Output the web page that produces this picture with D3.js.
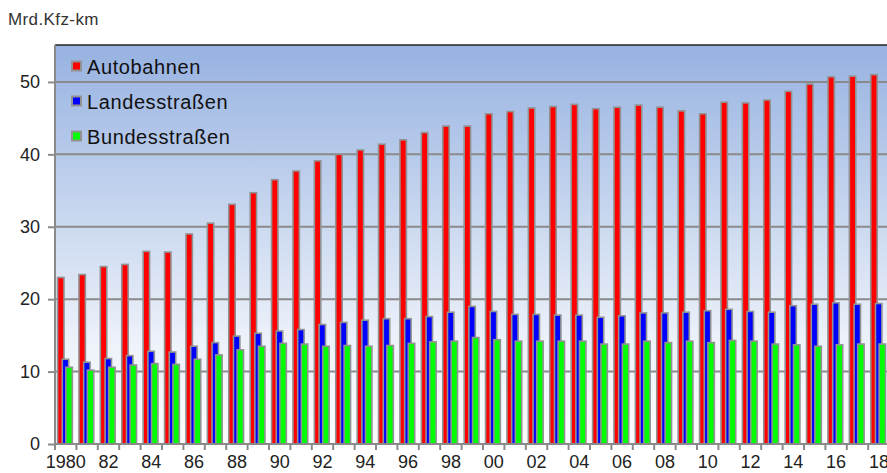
<!DOCTYPE html>
<html>
<head>
<meta charset="utf-8">
<script src="https://cdn.jsdelivr.net/npm/d3@7"></script>
<style>
  body { margin: 0; background: #fff; }
  text { font-family: Arial, "Liberation Sans", sans-serif; }
</style>
</head>
<body>
<div id="theChart"></div>
<script>
const years = d3.range(1980, 2019)
const autobahnen = [23.0, 23.4, 24.5, 24.8, 26.6, 26.5, 29.0, 30.5, 33.1, 34.7,
	36.5, 37.7, 39.1, 40.0, 40.6, 41.4, 42.0, 43.0, 43.9, 43.9,
	45.6, 45.9, 46.4, 46.6, 46.9, 46.3, 46.5, 46.8, 46.5, 46.0,
	45.6, 47.2, 47.1, 47.5, 48.7, 49.7, 50.7, 50.8, 51.0]
const landesstrassen = [11.7, 11.3, 11.8, 12.2, 12.8, 12.7, 13.5, 14.0, 14.9, 15.3,
	15.6, 15.8, 16.5, 16.8, 17.1, 17.3, 17.3, 17.6, 18.2, 19.0,
	18.3, 17.9, 17.9, 17.8, 17.8, 17.5, 17.7, 18.1, 18.1, 18.2,
	18.4, 18.6, 18.3, 18.2, 19.1, 19.3, 19.5, 19.3, 19.4]
const bundesstrassen = [10.6, 10.2, 10.6, 10.9, 11.1, 11.0, 11.7, 12.3, 13.0, 13.5,
	13.9, 13.8, 13.5, 13.6, 13.5, 13.6, 13.9, 14.1, 14.2, 14.7,
	14.4, 14.2, 14.2, 14.2, 14.2, 13.8, 13.8, 14.2, 14.0, 14.2,
	14.0, 14.3, 14.2, 13.8, 13.7, 13.5, 13.7, 13.8, 13.8]
const seriesNames = ["Autobahnen", "Landesstraßen", "Bundesstraßen"]
const seriesColors = ["#ff0000", "#0000ff", "#00ff00"]
const yTicks = [0, 10, 20, 30, 40, 50]

const w = 887
const h = 473
const plotLeft = 55
const plotTop = 45
const plotBottom = 444
const step = 21.4

const svg = d3.select("#theChart").append("svg")
	.attr("width", w).attr("height", h)

const x = d3.scaleBand().domain(years)
	.range([plotLeft, plotLeft + years.length * step]).padding(0)
const y = d3.scaleLinear().domain([0, 55.1]).range([plotBottom, plotTop])

// background gradient
const grad = svg.append("defs").append("linearGradient")
	.attr("id", "bg").attr("x1", 0).attr("y1", 0).attr("x2", 0).attr("y2", 1)
grad.append("stop").attr("offset", "0%").attr("stop-color", "#97b2e1")
grad.append("stop").attr("offset", "45%").attr("stop-color", "#cbd9f0")
grad.append("stop").attr("offset", "75%").attr("stop-color", "#eef2fa")
grad.append("stop").attr("offset", "100%").attr("stop-color", "#fbfcfe")

svg.append("rect")
	.attr("x", plotLeft).attr("y", plotTop)
	.attr("width", w - plotLeft).attr("height", plotBottom - plotTop)
	.attr("fill", "url(#bg)")

// gridlines
svg.append("g").selectAll("line")
	.data(yTicks.filter(d => d > 0))
	.enter().append("line")
	.attr("x1", plotLeft).attr("x2", w)
	.attr("y1", d => y(d)).attr("y2", d => y(d))
	.attr("stroke", "#8a8a8a").attr("stroke-width", 2)

// top border
svg.append("line")
	.attr("x1", plotLeft).attr("x2", w).attr("y1", plotTop).attr("y2", plotTop)
	.attr("stroke", "#222").attr("stroke-width", 1.5)

// bars
const series = [autobahnen, landesstrassen, bundesstrassen]
const offsets = [0.12, 0.34, 0.51]
const barW = x.bandwidth() * 0.3

series.forEach((vals, s) => {
	svg.append("g").selectAll("rect")
		.data(years.map((yr, i) => ({ yr, v: vals[i] })))
		.enter().append("rect")
		.attr("x", d => x(d.yr) + x.bandwidth() * offsets[s])
		.attr("y", d => y(d.v))
		.attr("width", barW)
		.attr("height", d => plotBottom - y(d.v))
		.attr("fill", seriesColors[s])
		.attr("stroke", "#929292")
		.attr("stroke-width", 1.6)
})

// y axis
const yAxis = d3.axisLeft(y).tickValues(yTicks).tickSize(7).tickPadding(8).tickSizeOuter(0)
const gy = svg.append("g").attr("transform", `translate(${plotLeft},0)`).call(yAxis)
gy.select(".domain").attr("stroke", "#8a8a8a").attr("stroke-width", 2)
	.attr("d", `M0,${plotTop}V${plotBottom}`)
gy.selectAll(".tick line").attr("stroke", "#8a8a8a").attr("stroke-width", 2)
gy.selectAll(".tick text").attr("font-size", 18).attr("fill", "#222")

// x axis
const xAxis = d3.axisBottom(x).tickSize(0).tickPadding(11).tickSizeOuter(0)
	.tickFormat(d => d % 2 === 0 ? (d === 1980 ? "1980" : String(d).slice(2)) : "")
const gx = svg.append("g").attr("transform", `translate(0,${plotBottom})`).call(xAxis)
gx.select(".domain").attr("stroke", "#8a8a8a").attr("stroke-width", 2)
	.attr("d", `M${plotLeft},0H${w}`)
gx.selectAll(".tick text").attr("font-size", 18).attr("fill", "#222")

// category boundary ticks
svg.append("g").selectAll("line")
	.data(years)
	.enter().append("line")
	.attr("x1", d => x(d)).attr("x2", d => x(d))
	.attr("y1", plotBottom).attr("y2", plotBottom + 6)
	.attr("stroke", "#8a8a8a").attr("stroke-width", 2)

// unit label
svg.append("text")
	.attr("x", 8).attr("y", 25)
	.attr("font-size", 17).attr("fill", "#333")
	.attr("letter-spacing", 0.4)
	.text("Mrd.Kfz-km")

// legend
const legend = svg.append("g").attr("transform", "translate(72,0)")
seriesNames.forEach((name, i) => {
	const cy = 66 + i * 35
	legend.append("rect")
		.attr("x", 0).attr("y", cy - 4.5)
		.attr("width", 9).attr("height", 9)
		.attr("fill", seriesColors[i])
		.attr("stroke", "#929292").attr("stroke-width", 2)
	legend.append("text")
		.attr("x", 15).attr("y", cy + 7.5)
		.attr("font-size", 20).attr("fill", "#111")
		.attr("letter-spacing", 0.6)
		.text(name)
})
</script>
</body>
</html>
